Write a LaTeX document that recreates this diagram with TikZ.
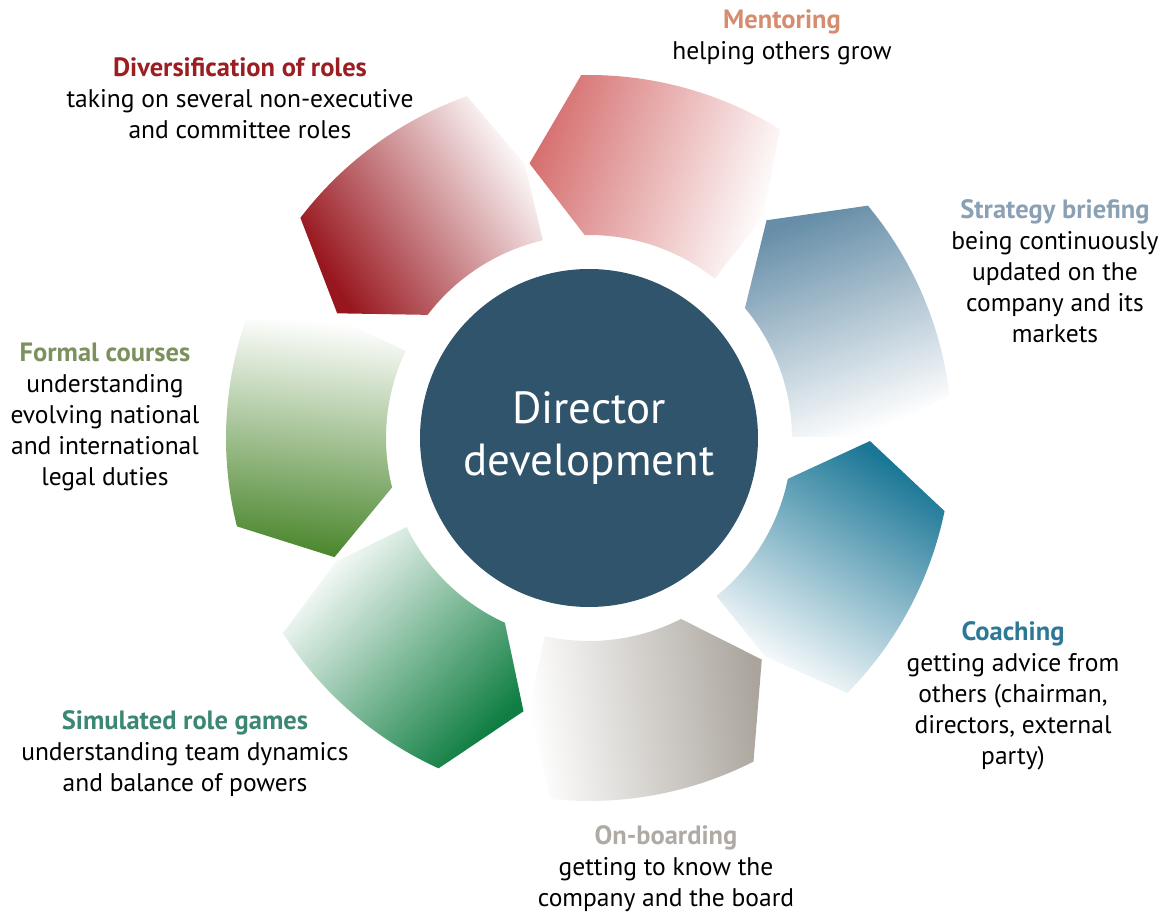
\documentclass[tikz,border=0pt]{standalone}
\usepackage{fontspec}
\setmainfont{PT Sans}
\usepackage{xcolor}
\usepackage{tikz}
\usetikzlibrary{positioning}
\definecolor{coreBlue}{RGB}{48,84,108}
\definecolor{segRed}{RGB}{152,22,30}
\definecolor{segSalmon}{RGB}{214,112,112}
\definecolor{segSteel}{RGB}{102,142,168}
\definecolor{segTeal}{RGB}{26,118,150}
\definecolor{segGray}{RGB}{170,164,156}
\definecolor{segGreen}{RGB}{16,126,66}
\definecolor{segOlive}{RGB}{74,134,44}
\definecolor{ttlRed}{RGB}{155,30,35}
\definecolor{ttlSalmon}{RGB}{214,140,110}
\definecolor{ttlSteel}{RGB}{138,160,180}
\definecolor{ttlTeal}{RGB}{45,120,150}
\definecolor{ttlGray}{RGB}{176,170,165}
\definecolor{ttlGreen}{RGB}{60,135,115}
\definecolor{ttlOlive}{RGB}{125,145,95}
% one arrow-shaped piece of the ring, #1 = angle of its pointed end
\newcommand{\ringseg}[2]{%
  \pgfmathsetmacro{\segTip}{#1+11}%
  \pgfmathsetmacro{\segOut}{#1-33}%
  \pgfmathsetmacro{\segIn}{#1-39.5}%
  \pgfmathsetmacro{\segShade}{#1-20}%
  \shade[top color=#2, bottom color=white, shading angle=\segShade]
    (#1:203) -- (\segTip:281) -- (#1:363)
    arc[start angle=#1, end angle=\segOut, radius=363]
    -- (\segIn:281) -- (\segIn:203)
    arc[start angle=\segIn, end angle=#1, radius=203] -- cycle;}
\newcommand{\ttl}[2]{{\fontsize{26.5}{31}\selectfont\textcolor{#1}{\textbf{#2}}}}

\begin{document}
\begin{tikzpicture}[x=1pt, y=1pt,
    lbl/.style={align=center, inner sep=0pt, font=\fontsize{25.5}{31}\selectfont},
    core/.style={circle, fill=coreBlue, minimum size=338pt, inner sep=0pt,
      text=white, align=center, font=\fontsize{45}{52}\selectfont}]
    \useasboundingbox (-589,-479) rectangle (581,438);

    % ring pieces
    \foreach \a/\col in {39.8/segSteel, 91.23/segSalmon, 142.66/segRed,
        194.09/segOlive, 245.52/segGreen, 296.95/segGray, 348.38/segTeal}
        \ringseg{\a}{\col};

    \node[core] (core) at (0,0) {Director\\development};

    % labels
    \node[lbl] (mentor) at (193,401) {\ttl{ttlSalmon}{Mentoring}\\helping others grow};
    \node[lbl] (divers) at (-349,340) {\ttl{ttlRed}{Diversification of roles}\\taking on several non-executive\\and committee roles};
    \node[lbl] (strat) at (466,166.5) {\ttl{ttlSteel}{Strategy briefing}\\being continuously\\updated on the\\company and its\\markets};
    \node[lbl] (formal) at (-484,21) {\ttl{ttlOlive}{Formal courses}\\understanding\\evolving national\\and international\\legal duties};
    \node[lbl] (coach) at (424,-257.5) {\ttl{ttlTeal}{Coaching}\\getting advice from\\others (chairman,\\directors, external\\party)};
    \node[lbl] (simul) at (-404,-315.5) {\ttl{ttlGreen}{Simulated role games}\\understanding team dynamics\\and balance of powers};
    \node[lbl] (board) at (77,-430.5) {\ttl{ttlGray}{On-boarding}\\getting to know the\\company and the board};
\end{tikzpicture}
\end{document}
